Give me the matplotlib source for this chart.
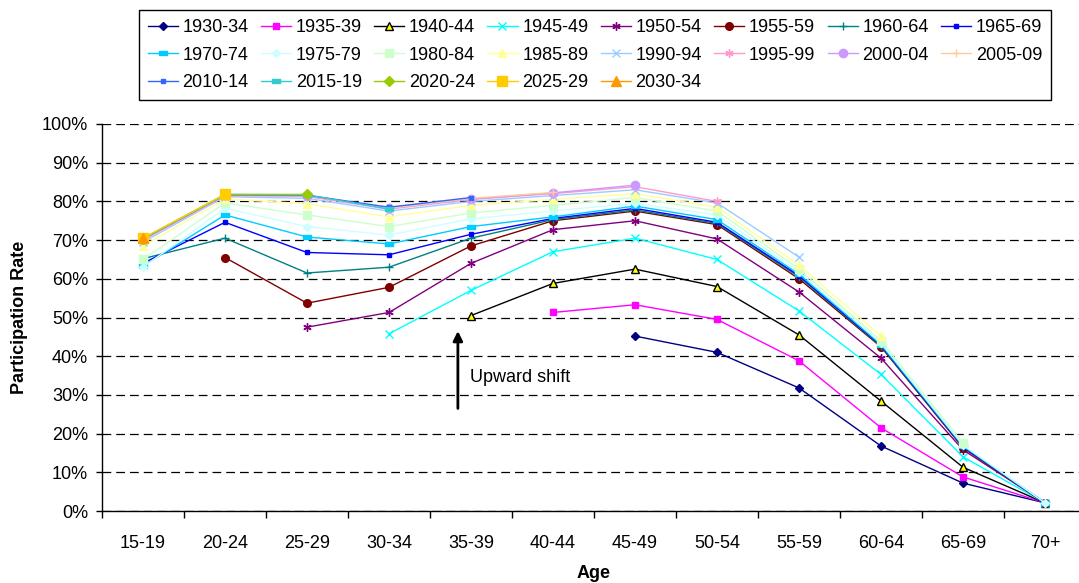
import matplotlib
matplotlib.use("Agg")
import matplotlib.pyplot as plt
import numpy as np
from matplotlib.ticker import FixedLocator, PercentFormatter

plt.rcParams["font.family"] = ["Liberation Sans", "DejaVu Sans"]

nan = np.nan

ages = ["15-19", "20-24", "25-29", "30-34", "35-39", "40-44",
        "45-49", "50-54", "55-59", "60-64", "65-69", "70+"]

# participation rate (%) by age group, one list per birth cohort
c1930_34 = [nan, nan, nan, nan, nan, nan, 45.2, 41.0, 31.8, 16.8, 7.2, 2.1]
c1935_39 = [nan, nan, nan, nan, nan, 51.3, 53.3, 49.5, 38.8, 21.5, 8.8, 2.1]
c1940_44 = [nan, nan, nan, nan, 50.5, 58.8, 62.5, 58.0, 45.5, 28.4, 11.3, 2.1]
c1945_49 = [nan, nan, nan, 45.8, 57.0, 67.0, 70.5, 65.0, 51.7, 35.3, 14.0, 2.1]
c1950_54 = [nan, nan, 47.5, 51.3, 64.0, 72.7, 75.0, 70.3, 56.6, 39.5, 15.8, 2.1]
c1955_59 = [nan, 65.5, 53.7, 57.8, 68.5, 75.0, 77.5, 74.0, 60.0, 42.4, 16.3, 2.1]
c1960_64 = [65.2, 70.5, 61.5, 63.0, 70.5, 75.3, 77.8, 74.3, 60.5, 42.6, 16.5, 2.1]
c1965_69 = [64.0, 74.6, 66.8, 66.2, 71.5, 75.6, 78.2, 74.6, 60.8, 42.8, 16.6, 2.1]
c1970_74 = [63.3, 76.5, 70.8, 69.0, 73.5, 76.0, 78.8, 75.3, 61.2, 43.0, 16.8, 2.1]
c1975_79 = [63.0, 78.2, 73.5, 71.3, 75.5, 77.5, 79.5, 76.5, 61.8, 43.4, 17.0, 2.1]
c1980_84 = [65.0, 79.6, 76.5, 73.5, 77.0, 79.0, 81.0, 77.5, 62.5, 44.0, 17.6, nan]
c1985_89 = [68.5, 80.6, 79.4, 76.0, 79.0, 80.5, 82.0, 78.5, 63.5, 45.2, nan, nan]
c1990_94 = [69.5, 81.2, 80.8, 77.5, 80.0, 81.5, 83.0, 79.6, 65.6, nan, nan, nan]
c1995_99 = [70.0, 81.5, 81.3, 78.0, 80.5, 82.0, 83.8, 80.0, nan, nan, nan, nan]
c2000_04 = [70.2, 81.6, 81.5, 78.3, 80.6, 82.2, 84.2, nan, nan, nan, nan, nan]
c2005_09 = [70.3, 81.7, 81.6, 78.2, 80.8, 82.3, nan, nan, nan, nan, nan, nan]
c2010_14 = [70.3, 81.7, 81.6, 78.5, 81.0, nan, nan, nan, nan, nan, nan, nan]
c2015_19 = [70.4, 81.8, 81.7, 78.0, nan, nan, nan, nan, nan, nan, nan, nan]
c2020_24 = [70.4, 81.8, 81.8, nan, nan, nan, nan, nan, nan, nan, nan, nan]
c2025_29 = [70.5, 81.8, nan, nan, nan, nan, nan, nan, nan, nan, nan, nan]
c2030_34 = [70.5, nan, nan, nan, nan, nan, nan, nan, nan, nan, nan, nan]

cohorts = ["1930-34", "1935-39", "1940-44", "1945-49", "1950-54", "1955-59",
           "1960-64", "1965-69", "1970-74", "1975-79", "1980-84", "1985-89",
           "1990-94", "1995-99", "2000-04", "2005-09", "2010-14", "2015-19",
           "2020-24", "2025-29", "2030-34"]
series = [c1930_34, c1935_39, c1940_44, c1945_49, c1950_54, c1955_59,
          c1960_64, c1965_69, c1970_74, c1975_79, c1980_84, c1985_89,
          c1990_94, c1995_99, c2000_04, c2005_09, c2010_14, c2015_19,
          c2020_24, c2025_29, c2030_34]

dash = [(-1, -0.45), (1, -0.45), (1, 0.45), (-1, 0.45), (-1, -0.45)]
aster = (6, 2, 0)

# (line colour, marker, marker face, marker edge, marker size)
styles = [
    ("#000080", "D", "#000080", "#000080", 4.0),
    ("#FF00FF", "s", "#FF00FF", "#FF00FF", 5.0),
    ("#000000", "^", "#FFFF00", "#000000", 5.5),
    ("#00FFFF", "x", "#00FFFF", "#00FFFF", 5.5),
    ("#800080", aster, "#800080", "#800080", 6.0),
    ("#800000", "o", "#800000", "#800000", 5.5),
    ("#008080", "+", "#008080", "#008080", 6.0),
    ("#0000FF", "s", "#0000FF", "#0000FF", 3.0),
    ("#00CCFF", dash, "#00CCFF", "#00CCFF", 5.5),
    ("#CCFFFF", "D", "#CCFFFF", "#CCFFFF", 4.5),
    ("#CCFFCC", "s", "#CCFFCC", "#CCFFCC", 6.0),
    ("#FFFF99", "^", "#FFFF99", "#FFFF99", 6.0),
    ("#99CCFF", "x", "#99CCFF", "#99CCFF", 6.0),
    ("#FF99CC", aster, "#FF99CC", "#FF99CC", 6.0),
    ("#CC99FF", "o", "#CC99FF", "#CC99FF", 6.0),
    ("#FFCC99", "+", "#FFCC99", "#FFCC99", 6.0),
    ("#3366FF", "s", "#3366FF", "#3366FF", 3.0),
    ("#33CCCC", dash, "#33CCCC", "#33CCCC", 5.5),
    ("#99CC00", "D", "#99CC00", "#99CC00", 5.0),
    ("#FFCC00", "s", "#FFCC00", "#FFCC00", 6.5),
    ("#FF9900", "^", "#FF9900", "#FF9900", 6.5),
]

fig = plt.figure(figsize=(10.79, 5.83), dpi=100)
ax = fig.add_axes([102 / 1079, 1 - 511 / 583, 984 / 1079, 387 / 583])

x = np.arange(len(ages))
handles = []
for label, vals, (col, mk, fc, ec, ms) in zip(cohorts, series, styles):
    (ln,) = ax.plot(x, vals, color=col, lw=1.0, marker=mk, markersize=ms,
                    markerfacecolor=fc, markeredgecolor=ec, markeredgewidth=1.0,
                    label=label)
    handles.append(ln)

ax.set_xlim(-0.5, len(ages) - 0.5)
ax.set_ylim(0, 100)

# gridlines
ax.yaxis.set_major_locator(FixedLocator(np.arange(0, 101, 10)))
ax.yaxis.set_major_formatter(PercentFormatter(decimals=0))
ax.grid(axis="y", color="black", linestyle=(0, (7, 4)), linewidth=0.9)
ax.set_axisbelow(True)

# category ticks sit between groups, labels at centres
ax.xaxis.set_major_locator(FixedLocator(np.arange(-0.5, len(ages), 1.0)))
ax.xaxis.set_major_formatter(plt.NullFormatter())
ax.xaxis.set_minor_locator(FixedLocator(x))
ax.set_xticklabels(ages, minor=True)
ax.tick_params(axis="x", which="major", length=5, width=1, direction="out")
ax.tick_params(axis="x", which="minor", length=0, pad=17, labelsize=13)
ax.tick_params(axis="y", length=4, width=1, direction="out", pad=6, labelsize=13)

for side in ("top", "right"):
    ax.spines[side].set_visible(False)
for side in ("left", "bottom"):
    ax.spines[side].set_linewidth(1.0)

ax.set_xlabel("Age", fontsize=13, fontweight="bold", labelpad=9.5)
ax.set_ylabel("Participation Rate", fontsize=13, fontweight="bold", labelpad=10)

ax.annotate("", xy=(3.84, 46.5), xytext=(3.84, 26.5),
            arrowprops=dict(arrowstyle="-|>", color="black", lw=2,
                            mutation_scale=14, shrinkA=0, shrinkB=0))
ax.text(3.99, 34.6, "Upward shift", fontsize=13, va="center", ha="left")

# fill legend row by row (matplotlib fills column by column)
ncol = 8
order = []
for j in range(ncol):
    order.extend(k for k in range(j, len(handles), ncol))
leg = fig.legend([handles[k] for k in order], [cohorts[k] for k in order],
                 ncol=ncol, loc="upper center",
                 bbox_to_anchor=(595 / 1079, 1 - 10 / 583),
                 fontsize=13, frameon=True, fancybox=False, framealpha=1,
                 edgecolor="black", handlelength=1.67, handletextpad=0.26,
                 columnspacing=0.68, labelspacing=0.58, borderpad=0.5,
                 borderaxespad=0)
leg.get_frame().set_linewidth(1.0)

fig.savefig("out.png", dpi=100)
